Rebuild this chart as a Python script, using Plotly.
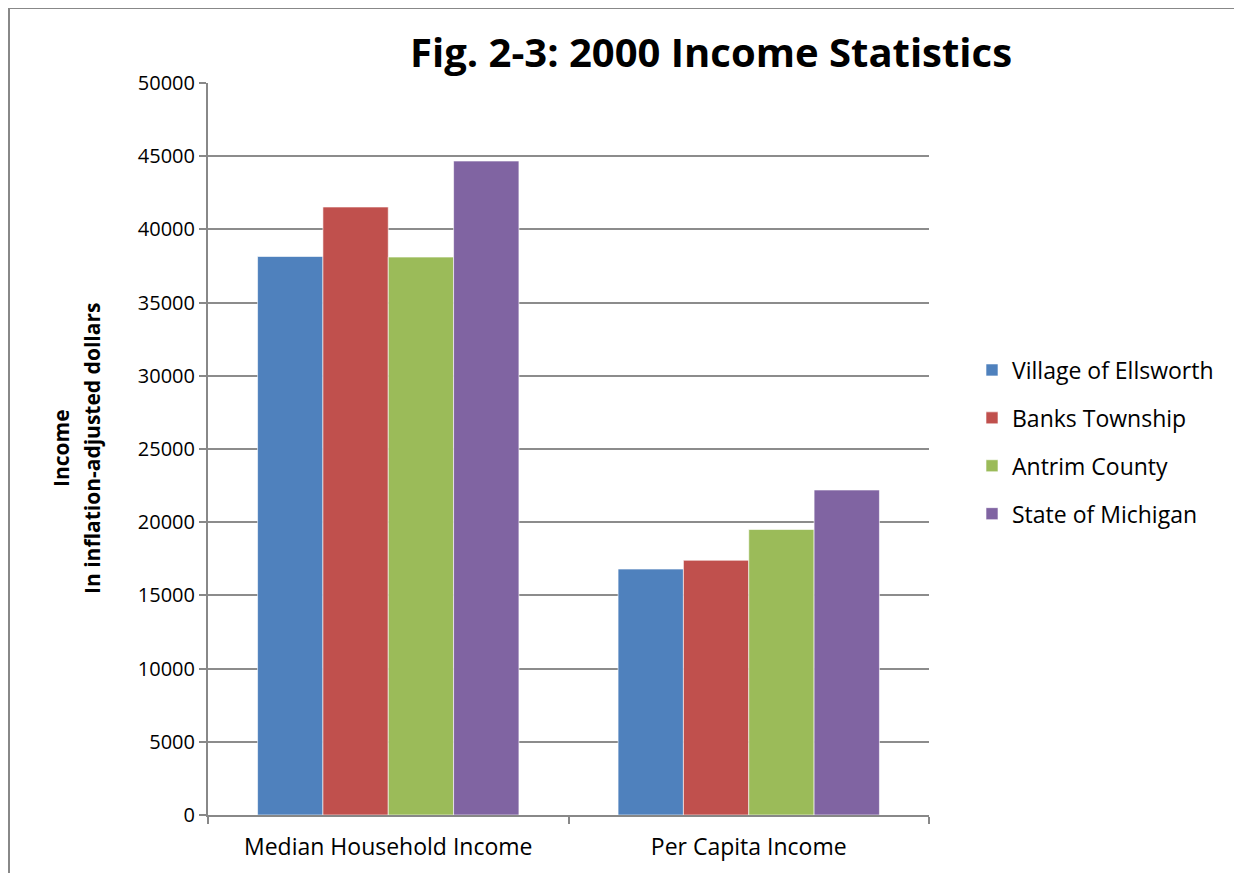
import plotly.graph_objects as go

categories = ["Median Household Income", "Per Capita Income"]
series_names = ["Village of Ellsworth", "Banks Township", "Antrim County", "State of Michigan"]
ellsworth = [38150, 16800]
banks = [41530, 17400]
antrim = [38110, 19500]
michigan = [44670, 22200]
colors = ["#4F81BD", "#C0504D", "#9BBB59", "#8064A2"]
y_ticks = [0, 5000, 10000, 15000, 20000, 25000, 30000, 35000, 40000, 45000, 50000]

# page body has an 8px default margin; work in screen coordinates and shift
OFF = 8
W, H = 1242 - OFF, 873 - OFF
L, R, T, B = 208 - OFF, 929 - OFF, 83 - OFF, 815 - OFF

def px(x):
    return (x - OFF - L) / (R - L)

def py(y):
    return (B - (y - OFF)) / (B - T)

fig = go.Figure()
for i, (name, vals) in enumerate(zip(series_names, [ellsworth, banks, antrim, michigan])):
    fig.add_trace(go.Bar(
        x=categories, y=vals, name=name,
        marker=dict(color=colors[i], line=dict(color="rgba(255,255,255,0.6)", width=1)),
        legendgroup=name,
    ))

font_family = "Open Sans, Liberation Sans, sans-serif"

fig.update_layout(
    width=W, height=H,
    margin=dict(l=L, r=W - R, t=T, b=H - B, pad=0),
    paper_bgcolor="white", plot_bgcolor="white",
    barmode="group", bargap=0.275, bargroupgap=0,
    font=dict(family=font_family, size=20, color="black"),
    title=dict(text="<b>Fig. 2-3: 2000 Income Statistics</b>",
               x=(711 - OFF) / W, xref="container", xanchor="center",
               y=1 - (53 - OFF) / H, yref="container", yanchor="middle",
               font=dict(size=40, family=font_family, color="black")),
    showlegend=True,
    legend=dict(x=px(972), xanchor="left",
                y=py(442), yanchor="middle",
                font=dict(size=23), tracegroupgap=15,
                bgcolor="rgba(0,0,0,0)", borderwidth=0),
    xaxis=dict(showgrid=False, showline=True, linecolor="#888888", linewidth=2,
               ticks="outside", ticklen=7, tickcolor="#888888", tickwidth=2,
               tickson="boundaries", tickfont=dict(size=23), ticklabelstandoff=10),
    yaxis=dict(range=[0, 50000], tickvals=y_ticks, ticktext=[str(v) for v in y_ticks],
               showgrid=True, gridcolor="#8c8c8c", gridwidth=2,
               showline=True, linecolor="#888888", linewidth=2,
               ticks="outside", ticklen=7, tickcolor="#888888", tickwidth=2,
               tickfont=dict(size=20), zeroline=False),
)

# Y-axis title (two bold lines, rotated)
fig.add_annotation(text="<b>Income</b>", xref="paper", yref="paper",
                   x=px(61), y=py(448), showarrow=False,
                   textangle=-90, font=dict(size=21, family=font_family, color="black"),
                   xanchor="center", yanchor="middle")
fig.add_annotation(text="<b>In inflation-adjusted dollars</b>", xref="paper", yref="paper",
                   x=px(92), y=py(448), showarrow=False,
                   textangle=-90, font=dict(size=21, family=font_family, color="black"),
                   xanchor="center", yanchor="middle")

# Chart-area border (top and left visible)
fig.add_shape(type="rect", xref="paper", yref="paper",
              x0=px(9), x1=px(1260), y0=py(900), y1=py(8),
              line=dict(color="#888888", width=2), fillcolor="rgba(0,0,0,0)", layer="below")

fig.write_html("out.html")
